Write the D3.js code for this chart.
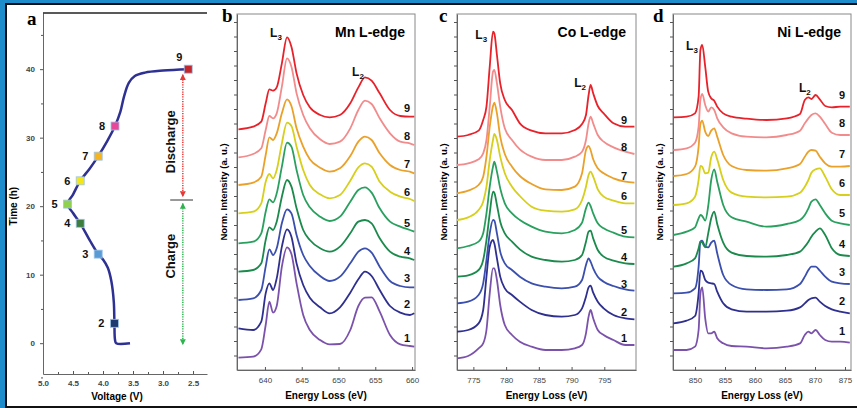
<!DOCTYPE html>
<html><head><meta charset="utf-8">
<script src="https://cdn.jsdelivr.net/npm/d3@7"></script>
<style>
body{margin:0;background:#fff}
svg{display:block}
</style></head>
<body><svg id="c" width="857" height="408" font-family="'Liberation Sans',Arial,sans-serif"></svg>
<script>
// ---------------- DATA ----------------
// Panel a: charge/discharge curve [voltage V, time h]
const voltageCurve = [[3.55,0],[3.78,0],[3.80,0.5],[3.81,3],[3.82,6],[3.86,9],[3.92,11],[4.00,12.2],[4.08,13.0],[4.22,15.0],[4.38,17.5],[4.50,19.0],[4.59,20.3],[4.50,21.7],[4.38,23.7],[4.22,25.5],[4.08,27.3],[3.93,29.5],[3.80,31.7],[3.71,33.8],[3.65,36.0],[3.57,38.0],[3.47,39.0],[3.30,39.5],[3.00,39.8],[2.58,40.0]];
const markerIds = ["2","3","4","5","6","7","8","9"];
const markerVoltage = [3.81,4.08,4.38,4.59,4.38,4.08,3.80,2.58];
const markerTime = [2.9,13.0,17.5,20.3,23.7,27.3,31.7,40.0];
const markerColors = ["#1f3a6e","#5b9bd5","#3d7d3d","#8fd14f","#f3e61b","#f5b521","#e8479a","#c1272d"];
const voltTicks = [5.0,4.5,4.0,3.5,3.0,2.5];
const voltMinor = [4.75,4.25,3.75,3.25,2.75];
const timeTicks = [0,10,20,30,40];
const timeMinor = [-5,5,15,25,35,45];

// Spectra: curve labels and colours (1 -> 9)
const curveLabels = ["1","2","3","4","5","6","7","8","9"];
const curveColors = ["#7b52ab","#2e2f8e","#3a4fae","#1b8a4c","#2aa05f","#d6cf1c","#eaa12a","#f28b8b","#e8222a"];

// Mn L-edge
const mnEnergy = [636.4,638.4,639.5,640.1,640.6,641.1,641.6,642.3,643.0,643.6,644.3,645.2,646.1,647.5,648.8,650.2,651.6,652.7,653.6,654.5,655.6,657.0,658.4,659.7,660.3];
const mnIntensity = [
 [3.7,4.0,6.2,13.5,20.5,17.2,19.2,31.0,36.8,34.8,26.0,16.5,12.0,9.0,7.7,7.8,12.0,19.2,21.7,21.8,17.5,10.5,7.7,7.2,7.0],
 [12.5,12.0,14.5,23.0,26.0,24.0,27.5,37.0,42.2,40.0,32.0,25.5,21.7,18.8,17.0,18.8,23.2,27.2,29.5,28.2,24.0,19.2,17.2,16.5,17.0],
 [21.0,21.5,24.0,31.0,36.2,34.5,36.5,44.0,48.2,47.0,40.5,34.5,31.2,28.2,26.7,28.0,32.0,35.5,36.5,35.2,31.0,26.7,25.2,24.8,24.8],
 [29.5,30.0,32.0,39.0,42.8,42.0,44.5,52.0,57.0,55.0,48.5,42.0,39.0,36.5,35.5,37.0,41.0,44.5,45.0,44.0,39.5,35.5,34.0,33.5,33.0],
 [38.0,38.5,41.0,47.5,51.2,50.3,53.0,61.0,68.2,67.0,60.0,52.5,48.8,46.0,44.7,46.0,50.5,54.0,54.8,53.2,48.5,44.5,43.0,42.0,41.5],
 [47.0,47.5,50.0,56.5,58.8,57.5,60.0,68.0,74.2,73.2,67.0,60.0,55.5,52.7,51.5,52.5,56.8,60.8,62.0,61.0,56.5,53.5,52.0,51.3,50.7],
 [55.5,56.2,58.0,64.5,69.8,69.0,71.0,77.0,81.2,79.2,72.5,67.0,63.2,60.7,59.5,60.5,64.2,68.5,70.0,69.0,65.0,61.5,60.0,59.5,59.0],
 [63.8,64.8,66.5,72.0,76.2,75.5,77.0,85.0,93.5,91.0,83.0,76.5,72.5,69.2,67.8,68.5,72.5,78.0,80.8,79.8,75.5,71.0,68.5,68.0,67.5],
 [72.2,73.0,74.5,80.0,84.2,83.8,84.8,92.0,99.8,97.0,89.0,82.5,78.8,76.5,75.8,76.5,80.0,84.8,87.8,86.8,83.0,78.0,76.2,76.0,76.0]
];
const mnTicks = [640,645,650,655,660];

// Co L-edge
const coEnergy = [772.5,774.2,775.8,776.5,777.0,777.5,778.0,778.2,778.6,779.1,779.8,780.9,782.1,783.9,786.0,788.5,790.5,791.6,792.2,792.6,792.9,793.3,794.0,794.9,796.4,798.2,799.6];
const coIntensity = [
 [3.5,4.2,6.5,8.0,12.0,23.0,30.5,30.5,27.0,19.5,13.5,10.5,8.5,7.0,6.0,6.0,6.5,7.5,11.0,16.0,18.0,15.5,12.0,10.5,9.0,7.5,7.5],
 [11.5,12.0,14.0,18.0,28.0,37.0,39.0,38.0,33.5,28.0,24.5,22.5,20.5,18.0,16.5,16.0,16.5,18.5,22.0,24.8,25.3,23.2,20.5,18.5,16.5,15.5,15.2],
 [20.0,20.5,22.5,26.0,33.0,41.0,45.0,44.8,41.0,35.5,32.0,30.0,28.0,26.0,25.0,24.5,25.0,27.0,31.5,33.5,32.5,30.5,28.0,26.5,25.2,24.2,23.8],
 [28.0,28.4,30.0,33.0,39.0,47.0,53.5,53.2,49.5,44.5,41.0,38.5,36.2,34.0,33.0,32.5,33.0,34.5,38.5,41.5,41.8,39.5,36.0,34.0,32.8,32.0,31.8],
 [36.5,37.2,38.5,41.0,47.0,55.0,61.0,62.5,59.5,54.5,50.0,47.0,45.0,43.0,41.5,41.0,42.0,44.2,48.5,50.2,49.2,47.0,44.0,42.5,41.2,40.0,39.8],
 [45.0,45.8,48.0,50.5,55.0,63.0,69.0,70.8,69.0,64.0,59.0,55.0,52.2,49.0,47.8,47.5,48.2,51.0,55.0,58.5,59.5,58.0,54.2,52.0,50.8,50.0,50.0],
 [53.0,53.8,55.5,58.0,64.0,73.0,79.2,80.2,77.0,70.0,64.8,61.0,58.2,55.8,54.2,54.0,55.0,59.0,66.0,67.2,66.0,63.2,60.5,59.0,57.5,56.5,56.2],
 [61.5,62.0,63.2,65.0,69.0,79.0,89.5,90.0,86.0,79.0,72.5,69.0,66.2,64.0,63.0,63.0,64.0,65.5,69.0,74.0,76.0,74.0,70.5,68.5,66.8,65.5,64.8],
 [70.0,70.5,71.8,75.0,79.0,91.0,101.5,101.0,94.5,86.0,81.0,78.0,74.0,71.8,71.0,71.0,72.0,73.8,76.5,82.5,85.5,83.0,79.2,77.0,74.0,73.0,73.0]
];
const coTicks = [775,780,785,790,795];

// Ni L-edge
const niEnergy = [846.4,848.6,850.0,850.6,850.9,851.2,851.7,852.2,852.7,853.2,853.7,854.7,856.1,858.6,861.9,865.3,867.5,868.3,868.9,869.4,870.1,870.8,871.7,872.8,874.2,875.8];
const niIntensity = [
 [6.0,6.0,7.0,12.0,23.0,24.8,15.5,11.0,11.0,11.5,9.5,8.0,7.2,7.0,6.5,7.0,8.0,10.5,11.5,11.0,12.0,10.5,9.0,8.5,8.5,8.2],
 [14.0,14.8,16.2,23.0,29.8,29.5,27.0,26.2,26.0,25.8,23.5,20.0,18.2,17.5,17.5,17.8,18.8,20.0,21.0,21.5,21.7,20.5,19.2,18.2,17.5,17.0],
 [23.0,23.2,24.5,31.0,38.5,38.8,37.0,36.8,38.2,38.8,35.0,28.5,25.5,24.2,24.0,24.2,25.8,28.0,30.0,31.0,31.0,29.8,28.0,26.5,26.0,25.8],
 [31.0,32.0,33.5,36.5,38.5,38.2,36.8,41.0,45.5,47.5,43.8,38.2,35.2,34.2,34.0,34.5,35.5,37.0,38.5,40.0,41.5,42.5,40.5,36.5,34.5,34.2],
 [40.5,41.5,42.8,45.5,46.5,46.2,44.8,49.2,57.0,60.2,56.5,49.5,45.8,44.5,43.0,43.8,45.0,46.5,48.5,50.5,51.2,49.5,47.0,44.8,44.0,43.5],
 [49.5,50.0,52.0,57.0,61.2,61.0,59.0,59.2,63.8,65.5,63.2,57.0,53.2,52.0,51.8,52.0,53.2,55.0,57.0,59.2,60.2,60.5,58.0,54.2,52.5,52.5],
 [58.2,58.8,61.0,67.0,73.8,74.8,71.5,70.2,71.8,72.5,70.0,64.5,61.2,60.0,59.8,60.5,61.8,64.0,65.5,66.0,65.8,64.0,62.0,61.0,61.0,61.2],
 [66.0,66.5,68.2,73.0,81.0,82.8,79.5,77.5,78.8,78.0,75.5,72.8,71.0,70.0,69.8,70.5,71.8,74.0,75.5,76.5,77.0,76.0,73.8,71.2,70.5,70.5],
 [75.8,76.0,77.0,82.0,96.0,97.5,91.0,83.5,81.5,80.8,79.0,77.0,76.0,75.4,75.0,75.5,76.8,81.0,81.8,81.3,82.5,81.2,79.2,78.8,79.0,79.0]
];
const niTicks = [850,855,860,865,870,875];

// ---------------- DRAW ----------------
const W = 857, H = 408;
const SANS = "'Liberation Sans',Arial,sans-serif";
const SERIF = "'Liberation Serif','Times New Roman',serif";
const svg = d3.select("#c");
svg.append("rect").attr("width", W).attr("height", H).attr("fill", "#1e8bcb");
svg.append("rect").attr("x", 5).attr("y", 3).attr("width", W - 5).attr("height", H - 3).attr("fill", "#111");
svg.append("rect").attr("x", 7).attr("y", 5).attr("width", W - 7).attr("height", H - 7).attr("fill", "#fff");

function styleAxis(g, size, color, weight) {
  g.attr("font-family", SANS);
  g.selectAll("path.domain").attr("stroke", "#666");
  g.selectAll(".tick line").attr("stroke", "#555");
  g.selectAll("text").attr("font-size", size).attr("fill", color).attr("font-weight", weight);
}

// ----- Panel a -----
(function () {
  const x = d3.scaleLinear().domain([5.0, 2.267]).range([43, 207]);
  const y = d3.scaleLinear().domain([-4.5, 48.2]).range([374, 13]);
  const g = svg.append("g");

  const gx = g.append("g").attr("transform", "translate(0,374)")
    .call(d3.axisBottom(x).tickValues(voltTicks).tickFormat(d3.format(".1f")).tickSize(-3).tickSizeOuter(0).tickPadding(6));
  styleAxis(gx, 8, "#444", "bold");
  g.append("g").attr("transform", "translate(0,374)")
    .call(d3.axisBottom(x).tickValues(voltMinor).tickFormat("").tickSize(-2).tickSizeOuter(0))
    .call(s => { s.select("path.domain").remove(); s.selectAll("line").attr("stroke", "#555"); });

  const gy = g.append("g").attr("transform", "translate(43,0)")
    .call(d3.axisLeft(y).tickValues(timeTicks).tickSize(3).tickSizeOuter(0).tickPadding(5));
  styleAxis(gy, 8, "#444", "bold");
  g.append("g").attr("transform", "translate(43,0)")
    .call(d3.axisLeft(y).tickValues(timeMinor).tickFormat("").tickSize(2).tickSizeOuter(0))
    .call(s => { s.select("path.domain").remove(); s.selectAll("line").attr("stroke", "#555"); });

  g.append("line").attr("x1", x(5.0)).attr("x2", x.range()[1]).attr("y1", y(48.2)).attr("y2", y(48.2))
    .attr("stroke", "#222").attr("stroke-width", 1.5);

  g.append("text").attr("transform", `translate(17,${y(20)}) rotate(-90)`).attr("text-anchor", "middle")
    .attr("font-size", 10).attr("font-weight", "bold").text("Time (h)");
  g.append("text").attr("x", 117).attr("y", 400).attr("text-anchor", "middle")
    .attr("font-size", 10).attr("font-weight", "bold").text("Voltage (V)");
  g.append("text").attr("x", 27).attr("y", 25).attr("font-family", SERIF)
    .attr("font-size", 19).attr("font-weight", "bold").text("a");

  // arrows
  const defs = svg.append("defs");
  [["ar", "#e53935"], ["ag", "#2eb34f"]].forEach(([id, c]) => {
    defs.append("marker").attr("id", id).attr("viewBox", "0 0 10 10").attr("refX", 9).attr("refY", 5)
      .attr("markerWidth", 4).attr("markerHeight", 4).attr("orient", "auto-start-reverse")
      .append("path").attr("d", "M0,0L10,5L0,10Z").attr("fill", c);
  });
  const ax = x(2.67);
  g.append("line").attr("x1", ax).attr("x2", ax).attr("y1", y(39.2)).attr("y2", y(21.4))
    .attr("stroke", "#e53935").attr("stroke-width", 1.5).attr("stroke-dasharray", "1.2,1.2")
    .attr("marker-start", "url(#ar)").attr("marker-end", "url(#ar)");
  g.append("line").attr("x1", ax).attr("x2", ax).attr("y1", y(20.4)).attr("y2", y(-0.2))
    .attr("stroke", "#2eb34f").attr("stroke-width", 1.5).attr("stroke-dasharray", "1.2,1.2")
    .attr("marker-start", "url(#ag)").attr("marker-end", "url(#ag)");
  g.append("line").attr("x1", x(2.88)).attr("x2", x(2.5)).attr("y1", y(20.9)).attr("y2", y(20.9))
    .attr("stroke", "#333").attr("stroke-width", 1);
  g.append("text").attr("transform", `translate(${x(2.87) + 4},${y(29.4)}) rotate(-90)`).attr("text-anchor", "middle")
    .attr("font-size", 13).attr("font-weight", "bold").attr("fill", "#111").text("Discharge");
  g.append("text").attr("transform", `translate(${x(2.87) + 4},${y(12.7)}) rotate(-90)`).attr("text-anchor", "middle")
    .attr("font-size", 13).attr("font-weight", "bold").attr("fill", "#111").text("Charge");

  // curve
  g.append("path").datum(voltageCurve)
    .attr("d", d3.line().x(d => x(d[0])).y(d => y(d[1])).curve(d3.curveCatmullRom.alpha(0.5)))
    .attr("fill", "none").attr("stroke", "#2e3192").attr("stroke-width", 2.5);

  const s = 8;
  markerIds.forEach((id, i) => {
    const px = x(markerVoltage[i]), py = y(markerTime[i]);
    g.append("rect").attr("x", px - s / 2).attr("y", py - s / 2).attr("width", s).attr("height", s)
      .attr("fill", markerColors[i]).attr("stroke", "#9fc4e8").attr("stroke-width", 0.8);
    const isLast = i === markerIds.length - 1;
    g.append("text").attr("x", isLast ? px - 9 : px - 13).attr("y", isLast ? py - 8 : py + 4)
      .attr("text-anchor", "middle").attr("font-size", 11).attr("font-weight", "bold").attr("fill", "#111").text(id);
  });
})();

// ----- Spectra panels -----
const yTop = 14, yBot = 370;
function drawPanel(cfg) {
  const x = d3.scaleLinear().domain(cfg.domain).range([cfg.left, cfg.right]);
  const y = d3.scaleLinear().domain([0, 106.8]).range([yBot, yTop]);
  const g = svg.append("g");
  g.append("rect").attr("x", cfg.left).attr("y", yTop).attr("width", cfg.right - cfg.left).attr("height", yBot - yTop)
    .attr("fill", "none").attr("stroke", "#888").attr("stroke-width", 1);
  const gx = g.append("g").attr("transform", `translate(0,${yBot})`)
    .call(d3.axisBottom(x).tickValues(cfg.ticks).tickFormat(d3.format("d")).tickSize(-3).tickSizeOuter(0).tickPadding(7));
  styleAxis(gx, 8, "#444", "normal");
  const gy = g.append("g").attr("transform", `translate(${cfg.left},0)`)
    .call(d3.axisLeft(y).tickValues(d3.range(4.35, 106, 4.35)).tickFormat("").tickSize(3).tickSizeOuter(0));
  styleAxis(gy, 8, "#444", "normal");

  const line = d3.line().x((d, i) => x(cfg.energy[i])).y(d => y(d)).curve(d3.curveMonotoneX);
  cfg.spectra.forEach((arr, k) => {
    g.append("path").datum(arr).attr("d", line).attr("fill", "none")
      .attr("stroke", curveColors[k]).attr("stroke-width", 1.8);
    g.append("text").attr("x", cfg.right - cfg.labelDx).attr("y", y(arr[arr.length - 1]) - cfg.labelDy)
      .attr("text-anchor", "middle").attr("font-size", 11).attr("font-weight", "bold").attr("fill", "#111")
      .text(curveLabels[k]);
  });

  g.append("text").attr("x", cfg.right - 10).attr("y", 37).attr("text-anchor", "end")
    .attr("font-size", 14).attr("font-weight", "bold").text(cfg.title);
  g.append("text").attr("x", cfg.letterX).attr("y", 22).attr("font-family", SERIF)
    .attr("font-size", 19).attr("font-weight", "bold").text(cfg.letter);
  g.append("text").attr("transform", `translate(${cfg.left - 10},${(yTop + yBot) / 2}) rotate(-90)`)
    .attr("text-anchor", "middle").attr("font-size", 9.5).attr("font-weight", "bold").text("Norm. Intensity (a. u.)");
  g.append("text").attr("x", (cfg.left + cfg.right) / 2).attr("y", 399).attr("text-anchor", "middle")
    .attr("font-size", 10).attr("font-weight", "bold").text("Energy Loss (eV)");

  cfg.edges.forEach(e => {
    const t = g.append("text").attr("x", x(e.E)).attr("y", y(e.I)).attr("text-anchor", "middle")
      .attr("font-size", 12).attr("font-weight", "bold").attr("fill", "#111");
    t.append("tspan").text("L");
    t.append("tspan").attr("font-size", 8).attr("dy", 3).text(e.sub);
  });
}

drawPanel({left: 237, right: 415, domain: [636.2, 660.4], energy: mnEnergy, spectra: mnIntensity, ticks: mnTicks,
  title: "Mn L-edge", letter: "b", letterX: 222, labelDx: 8, labelDy: 5,
  edges: [{E: 641.5, I: 99.9, sub: "3"}, {E: 652.65, I: 88.2, sub: "2"}]});
drawPanel({left: 457, right: 636, domain: [772.5, 799.84], energy: coEnergy, spectra: coIntensity, ticks: coTicks,
  title: "Co L-edge", letter: "c", letterX: 439, labelDx: 12, labelDy: 3,
  edges: [{E: 776.2, I: 99.3, sub: "3"}, {E: 791.3, I: 84.9, sub: "2"}]});
drawPanel({left: 673, right: 851, domain: [846.33, 876.0], energy: niEnergy, spectra: niIntensity, ticks: niTicks,
  title: "Ni L-edge", letter: "d", letterX: 653, labelDx: 9, labelDy: 8,
  edges: [{E: 849.5, I: 96, sub: "3"}, {E: 868.3, I: 83.4, sub: "2"}]});
</script>
</body></html>
